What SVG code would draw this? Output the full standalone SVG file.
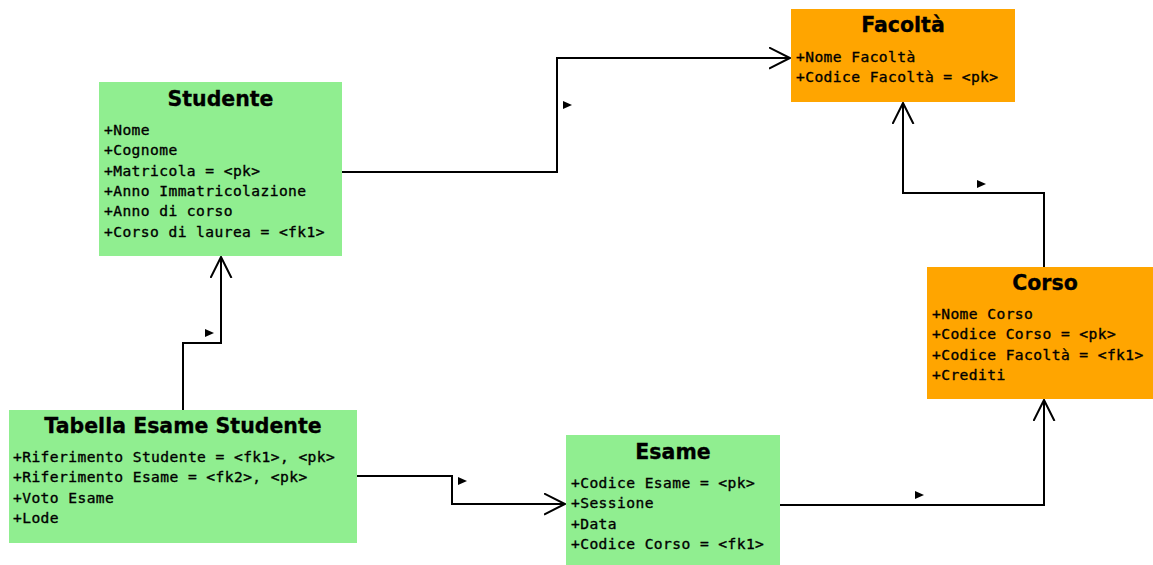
<svg xmlns="http://www.w3.org/2000/svg" width="1153" height="565" viewBox="0 0 1153 565">
<style>
.green{fill:#90EE90}
.orange{fill:#FFA500}
.title{font-family:"DejaVu Sans",sans-serif;font-weight:bold;font-size:20.5px;fill:#000;stroke:#000;stroke-width:0.3;text-anchor:middle}
.attr{font-family:"DejaVu Sans Mono",monospace;font-size:14.6px;letter-spacing:0.42px;fill:#000;stroke:#000;stroke-width:0.35}
.conn{fill:none;stroke:#000;stroke-width:2}
.tri{fill:#000}
</style>
<defs>
<marker id="open" markerWidth="24" markerHeight="24" refX="21" refY="11" orient="auto" markerUnits="userSpaceOnUse">
<path d="M0,0.5 L21,11 L0,21.5" fill="none" stroke="#000" stroke-width="2"/>
</marker>
</defs>
<rect width="1153" height="565" fill="#fff"/>
<g id="connectors">
<path class="conn" d="M342,172 H557 V58 H790" marker-end="url(#open)"/>
<polygon class="tri" points="563,101 572,105 563,109"/>
<path class="conn" d="M1044,267 V193 H903 V103" marker-end="url(#open)"/>
<polygon class="tri" points="977,180 986,184 977,188"/>
<path class="conn" d="M183,410 V343 H221 V257" marker-end="url(#open)"/>
<polygon class="tri" points="205,329 214,333 205,337"/>
<path class="conn" d="M357,476 H452 V504 H565" marker-end="url(#open)"/>
<polygon class="tri" points="458,477 467,481 458,485"/>
<path class="conn" d="M780,505 H1044 V400" marker-end="url(#open)"/>
<polygon class="tri" points="915,491 924,495 915,499"/>
</g>
<g id="studente">
<rect class="green" x="99" y="82" width="243" height="174"/>
<text class="title" x="220.5" y="106">Studente</text>
<text class="attr" x="104" y="135">+Nome</text>
<text class="attr" x="104" y="155.3">+Cognome</text>
<text class="attr" x="104" y="175.6">+Matricola = &lt;pk&gt;</text>
<text class="attr" x="104" y="195.9">+Anno Immatricolazione</text>
<text class="attr" x="104" y="216.2">+Anno di corso</text>
<text class="attr" x="104" y="236.5">+Corso di laurea = &lt;fk1&gt;</text>
</g>
<g id="facolta">
<rect class="orange" x="791" y="9" width="224" height="93"/>
<text class="title" x="903" y="32">Facoltà</text>
<text class="attr" x="796" y="62">+Nome Facoltà</text>
<text class="attr" x="796" y="82.3">+Codice Facoltà = &lt;pk&gt;</text>
</g>
<g id="corso">
<rect class="orange" x="927" y="267" width="236" height="132"/>
<text class="title" x="1045" y="290">Corso</text>
<text class="attr" x="932" y="319">+Nome Corso</text>
<text class="attr" x="932" y="339.3">+Codice Corso = &lt;pk&gt;</text>
<text class="attr" x="932" y="359.6">+Codice Facoltà = &lt;fk1&gt;</text>
<text class="attr" x="932" y="379.9">+Crediti</text>
</g>
<g id="tabella">
<rect class="green" x="9" y="410" width="348" height="133"/>
<text class="title" x="183" y="433">Tabella Esame Studente</text>
<text class="attr" x="13" y="462">+Riferimento Studente = &lt;fk1&gt;, &lt;pk&gt;</text>
<text class="attr" x="13" y="482.3">+Riferimento Esame = &lt;fk2&gt;, &lt;pk&gt;</text>
<text class="attr" x="13" y="502.6">+Voto Esame</text>
<text class="attr" x="13" y="522.9">+Lode</text>
</g>
<g id="esame">
<rect class="green" x="566" y="435" width="214" height="135"/>
<text class="title" x="673" y="459">Esame</text>
<text class="attr" x="571" y="488">+Codice Esame = &lt;pk&gt;</text>
<text class="attr" x="571" y="508.3">+Sessione</text>
<text class="attr" x="571" y="528.6">+Data</text>
<text class="attr" x="571" y="548.9">+Codice Corso = &lt;fk1&gt;</text>
</g>
</svg>
